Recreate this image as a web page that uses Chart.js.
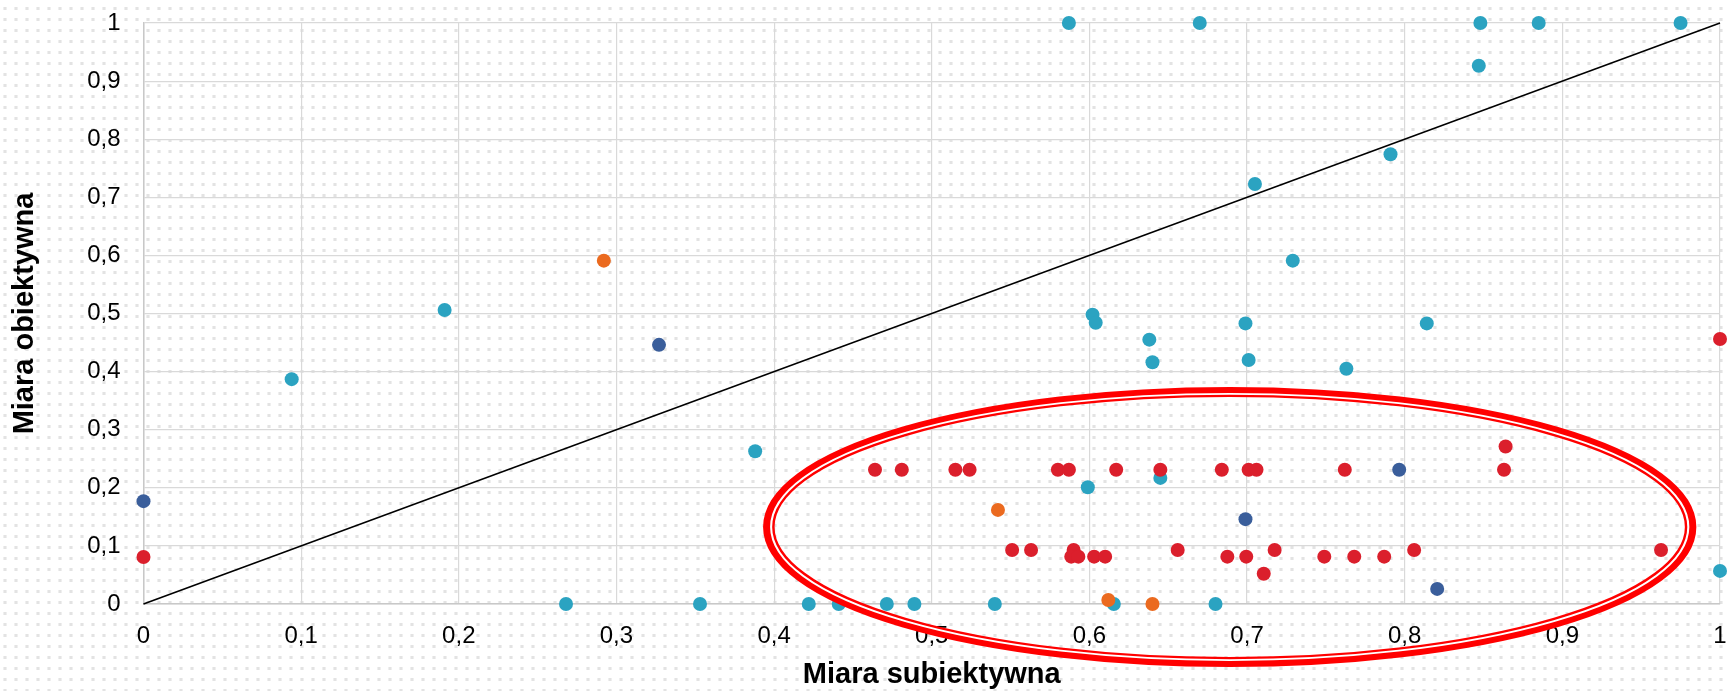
<!DOCTYPE html>
<html>
<head>
<meta charset="utf-8">
<script src="https://cdn.jsdelivr.net/npm/chart.js@4/dist/chart.umd.min.js"></script>
<style>
html,body{margin:0;padding:0;background:#fff;}
#wrap{width:1727px;height:691px;position:relative;}
canvas{display:block;}
</style>
</head>
<body>
<div id="wrap"><canvas id="c" width="1727" height="691"></canvas></div>
<script>
// ---- tick labels ----
const xTickLabels = ['0','0,1','0,2','0,3','0,4','0,5','0,6','0,7','0,8','0,9','1'];
const yTickLabels = ['0','0,1','0,2','0,3','0,4','0,5','0,6','0,7','0,8','0,9','1'];

// ---- axis titles ----
const xTitle = 'Miara subiektywna';
const yTitle = 'Miara obiektywna';

// ---- series: teal ----
const tealX = [0.094,0.191,0.268,0.353,0.388,0.422,0.441,0.4715,0.489,0.540,0.587,0.599,0.602,0.604,0.6155,0.638,0.640,0.645,0.670,0.680,0.699,0.701,0.705,0.729,0.763,0.791,0.814,0.847,0.848,0.885,0.975,1.0];
const tealY = [0.387,0.506,0,0,0.263,0,0,0,0,0,1,0.201,0.498,0.484,0,0.455,0.416,0.217,1,0,0.483,0.420,0.723,0.591,0.405,0.774,0.483,0.9265,1,1,1,0.057];

// ---- series: dark blue ----
const navyX = [0,0.327,0.699,0.7965,0.8206];
const navyY = [0.177,0.446,0.146,0.231,0.026];

// ---- series: orange ----
const orangeX = [0.292,0.542,0.612,0.640];
const orangeY = [0.591,0.162,0.007,0];

// ---- series: red ----
const redX = [0,0.464,0.481,0.515,0.524,0.580,0.587,0.617,0.645,0.684,0.701,0.706,0.762,0.863,0.864,0.551,0.563,0.590,0.5885,0.593,0.603,0.610,0.656,0.6875,0.6995,0.7175,0.7106,0.749,0.768,0.787,0.806,0.9626,1.0];
const redY = [0.081,0.231,0.231,0.231,0.231,0.231,0.231,0.231,0.231,0.231,0.231,0.231,0.231,0.231,0.271,0.093,0.093,0.093,0.0815,0.0815,0.0815,0.0815,0.093,0.0815,0.0815,0.093,0.052,0.0815,0.0815,0.0815,0.093,0.093,0.456];

// ---- reference line y = x ----
const diagX = [0,1];
const diagY = [0,1];

// ---- highlight ellipse annotation (data units) ----
const ellipseCenterX = 0.689;
const ellipseCenterY = 0.1326;
const ellipseRadiusX = 0.296;
const ellipseRadiusY = 0.2411;

const toPts = (xs, ys) => xs.map((x, i) => ({x: x, y: ys[i]}));

const bgPlugin = {
  id: 'dotbg',
  beforeDraw(chart) {
    const ctx = chart.ctx;
    const p = document.createElement('canvas');
    p.width = 11; p.height = 11;
    const pc = p.getContext('2d');
    pc.fillStyle = '#ffffff'; pc.fillRect(0, 0, 11, 11);
    pc.fillStyle = '#efefef'; pc.fillRect(3, 7, 4, 3);
    pc.fillStyle = '#e3e3e3'; pc.fillRect(4, 7, 2, 3);
    ctx.save();
    ctx.fillStyle = ctx.createPattern(p, 'repeat');
    ctx.fillRect(0, 0, chart.width, chart.height);
    ctx.restore();
  }
};

const ellipsePlugin = {
  id: 'ellipse',
  afterDraw(chart) {
    const {ctx, scales: {x, y}} = chart;
    const cx = x.getPixelForValue(ellipseCenterX);
    const cy = y.getPixelForValue(ellipseCenterY);
    const rx = Math.abs(x.getPixelForValue(ellipseCenterX + ellipseRadiusX) - cx);
    const ry = Math.abs(y.getPixelForValue(ellipseCenterY + ellipseRadiusY) - cy);
    const sx = 1.15;
    ctx.save();
    ctx.translate(cx, cy);
    ctx.scale(sx, 1);
    const R = rx / sx;
    ctx.strokeStyle = '#ff0000';
    ctx.lineWidth = 10;
    ctx.beginPath(); ctx.ellipse(0, 0, R - 5, ry - 5, 0, 0, Math.PI * 2); ctx.stroke();
    ctx.strokeStyle = '#ffffff';
    ctx.lineWidth = 1.8;
    ctx.beginPath(); ctx.ellipse(0, 0, R - 7, ry - 7, 0, 0, Math.PI * 2); ctx.stroke();
    ctx.restore();
  }
};

const tickFont = {family: "'Liberation Sans', Arial, sans-serif", size: 24};
const titleFont = {family: "'Liberation Sans', Arial, sans-serif", size: 29, weight: 'bold', lineHeight: 1};
const gridColor = '#d9d9d9';

const ptStyle = (color, order) => ({
  backgroundColor: color, borderColor: color, borderWidth: 0,
  pointRadius: 7, pointHoverRadius: 7, order: order, clip: false
});

new Chart(document.getElementById('c'), {
  type: 'scatter',
  data: {
    datasets: [
      Object.assign({label: 'red', data: toPts(redX, redY)}, ptStyle('#db1f2c', 1)),
      Object.assign({label: 'orange', data: toPts(orangeX, orangeY)}, ptStyle('#eb6a1f', 2)),
      Object.assign({label: 'navy', data: toPts(navyX, navyY)}, ptStyle('#3a5e9b', 3)),
      Object.assign({label: 'teal', data: toPts(tealX, tealY)}, ptStyle('#2ba3c1', 4)),
      {label: 'diag', data: toPts(diagX, diagY), showLine: true, pointRadius: 0,
       borderColor: '#000000', borderWidth: 1.6, order: 5, clip: false}
    ]
  },
  options: {
    responsive: false,
    animation: false,
    devicePixelRatio: 1,
    layout: {padding: {left: 0, top: 23, right: 4.5, bottom: 0}},
    plugins: {legend: {display: false}, tooltip: {enabled: false}},
    scales: {
      x: {
        type: 'linear', min: 0, max: 1,
        ticks: {stepSize: 0.1, autoSkip: false, maxRotation: 0, font: tickFont, color: '#000',
                padding: 17.5, callback: (v, i) => xTickLabels[i]},
        grid: {color: gridColor, lineWidth: 1.2, drawTicks: false},
        border: {color: '#c8c8c8', width: 1.5},
        title: {display: true, text: xTitle, font: titleFont, color: '#000', padding: {top: 0, bottom: 1.5}},
        afterFit: (s) => { s.height = 87; s.paddingLeft = 0; s.paddingRight = 0; }
      },
      y: {
        type: 'linear', min: 0, max: 1,
        ticks: {stepSize: 0.1, autoSkip: false, font: tickFont, color: '#000',
                padding: 23, callback: (v, i) => yTickLabels[i]},
        grid: {color: gridColor, lineWidth: 1.2, drawTicks: false},
        border: {color: '#c8c8c8', width: 1.5},
        title: {display: true, text: yTitle, font: titleFont, color: '#000', padding: {top: 10.5, bottom: 0}},
        afterFit: (s) => { s.width = 143.5; s.paddingTop = 0; s.paddingBottom = 0; }
      }
    }
  },
  plugins: [bgPlugin, ellipsePlugin]
});
</script>
</body>
</html>
